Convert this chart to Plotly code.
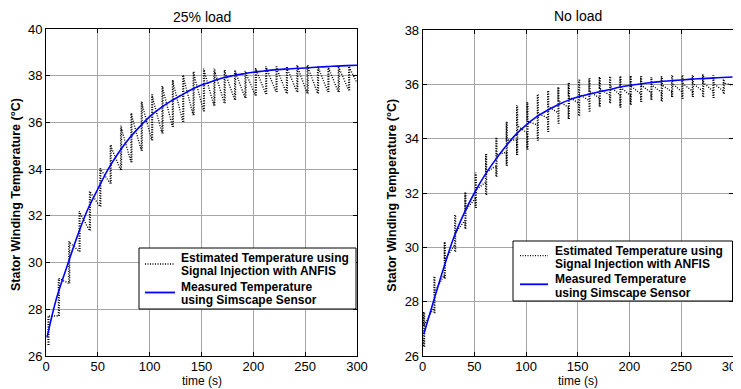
import plotly.graph_objects as go

# ---------------- data: 25% load (left panel) ----------------
left_meas_t = [1, 10, 20, 30, 40, 50, 60, 70, 80, 90, 100, 110, 120, 130, 140, 150, 160, 170, 180, 190,
               200, 210, 220, 230, 240, 250, 260, 270, 280, 290, 300]
left_meas_v = [26.8, 28.45, 29.8, 31.1, 32.25, 33.15, 34.0, 34.7, 35.3, 35.8, 36.25, 36.6, 36.9, 37.15, 37.4,
               37.6, 37.75, 37.9, 38.0, 38.08, 38.15, 38.2, 38.25, 38.28, 38.31, 38.33, 38.36, 38.39, 38.41,
               38.43, 38.45]

left_col_t = [2, 12, 22, 32, 42, 52, 62, 72, 82, 92, 102, 112, 122, 132, 142,
              152, 162, 172, 182, 192, 202, 212, 222, 232, 242, 252, 262, 272, 282, 292]
left_col_lo = [26.47, 27.71, 29.11, 30.47, 31.37, 32.4, 33.39, 33.96, 34.3, 34.79, 35.24, 35.53, 35.81, 36.03, 36.31,
               36.48, 36.72, 36.82, 36.96, 37.05, 37.15, 37.22, 37.3, 37.24, 37.3, 37.24, 37.24, 37.3, 37.3, 37.38]
left_col_hi = [27.71, 29.33, 30.9, 32.19, 33.05, 34.03, 35.03, 35.86, 36.39, 36.89, 37.2, 37.56, 37.81, 38.03, 38.17,
               38.3, 38.3, 38.24, 38.25, 38.2, 38.33, 38.39, 38.39, 38.4, 38.45, 38.45, 38.42, 38.4, 38.4, 38.4]
left_end = (300, 37.7)

# ---------------- data: No load (right panel) ----------------
right_meas_t = [1, 10, 20, 30, 40, 50, 60, 70, 80, 90, 100, 110, 120, 130, 140, 150, 160, 170, 180, 190,
                200, 210, 220, 230, 240, 250, 260, 270, 280, 290, 300]
right_meas_v = [26.8, 27.95, 29.2, 30.35, 31.25, 32.0, 32.65, 33.2, 33.7, 34.15, 34.5, 34.8, 35.03, 35.23,
                35.4, 35.53, 35.63, 35.72, 35.8, 35.89, 35.96, 36.01, 36.06, 36.1, 36.13, 36.16, 36.19,
                36.21, 36.23, 36.25, 36.27]

right_col_t = [1, 11, 21, 31, 41, 51, 61, 71, 81, 91, 101, 111, 121, 131, 141,
               151, 161, 171, 181, 191, 201, 211, 221, 231, 241, 251, 261, 271, 281, 291]
right_col_lo = [26.34, 27.57, 28.85, 29.84, 30.68, 31.45, 31.93, 32.6, 33.0, 33.4, 33.6, 33.93, 34.25, 34.55, 34.72,
                34.84, 35.0, 35.18, 35.3, 35.15, 35.25, 35.35, 35.43, 35.37, 35.53, 35.47, 35.53, 35.53, 35.5, 35.65]
right_col_hi = [27.63, 28.94, 30.2, 31.22, 32.03, 32.75, 33.44, 34.05, 34.62, 35.23, 35.35, 35.63, 35.77, 35.9, 36.05,
                36.17, 36.22, 36.28, 36.3, 36.3, 36.32, 36.3, 36.27, 36.3, 36.33, 36.33, 36.33, 36.37, 36.33, 36.2]
right_col_arr = [26.6, 27.8, 29.0, 30.1, 31.0, 31.8, 32.4, 33.0, 33.5, 33.95, 34.2, 34.5, 34.75, 34.95, 35.15,
                 35.3, 35.4, 35.5, 35.6, 35.6, 35.6, 35.65, 35.7, 35.7, 35.72, 35.72, 35.75, 35.75, 35.75, 35.75]
right_col_dep = [27.1, 28.3, 29.5, 30.5, 31.35, 32.1, 32.75, 33.4, 33.95, 34.5, 34.65, 34.95, 35.2, 35.4, 35.55,
                 35.65, 35.75, 35.85, 35.95, 35.9, 35.95, 35.98, 36.0, 36.0, 36.05, 36.05, 36.05, 36.08, 36.05, 36.05]
right_end = (300, 35.97)

est_lines = ["Estimated Temperature using", "Signal Injection with ANFIS"]
meas_lines = ["Measured Temperature", "using Simscape Sensor"]


def est_path(col_t, arr, lo, hi, dep, end):
    xs, ys = [], []
    for t, a, l, h, d in zip(col_t, arr, lo, hi, dep):
        xs += [t, t, t, t]
        ys += [a, l, h, d]
    xs.append(end[0])
    ys.append(end[1])
    return xs, ys


def col_path(col_t, lo, hi, shift):
    # second pass over each burst column (the bursts are drawn denser in the source)
    xs, ys = [], []
    for t, l, h in zip(col_t, lo, hi):
        xs += [t + shift, t + shift, None]
        ys += [l, h, None]
    return xs, ys


fig = go.Figure()

lx, ly = est_path(left_col_t, left_col_lo, left_col_lo, left_col_hi, left_col_hi, left_end)
rx, ry = est_path(right_col_t, right_col_arr, right_col_lo, right_col_hi, right_col_dep, right_end)
lcx, lcy = col_path(left_col_t, left_col_lo, left_col_hi, 0.8)
rcx, rcy = col_path(right_col_t, right_col_lo, right_col_hi, 0.8)

DOT = "1px,1.5px"
dot_line = dict(color="black", width=1.4, dash=DOT)
blue_line = dict(color="#0000ff", width=1.6, shape="spline", smoothing=1.0)

est_name = " ".join(est_lines)
meas_name = " ".join(meas_lines)
fig.add_trace(go.Scatter(x=lcx, y=lcy, mode="lines", line=dot_line, hoverinfo="skip", xaxis="x", yaxis="y"))
fig.add_trace(go.Scatter(x=lx, y=ly, mode="lines", line=dot_line, name=est_name, xaxis="x", yaxis="y"))
fig.add_trace(go.Scatter(x=left_meas_t, y=left_meas_v, mode="lines", line=blue_line, name=meas_name,
                         xaxis="x", yaxis="y"))
fig.add_trace(go.Scatter(x=rcx, y=rcy, mode="lines", line=dot_line, hoverinfo="skip", xaxis="x2", yaxis="y2"))
fig.add_trace(go.Scatter(x=rx, y=ry, mode="lines", line=dot_line, name=est_name, xaxis="x2", yaxis="y2"))
fig.add_trace(go.Scatter(x=right_meas_t, y=right_meas_v, mode="lines", line=blue_line, name=meas_name,
                         xaxis="x2", yaxis="y2"))

# the page body adds an 8px margin; size and place everything in window pixels
OFF = 8
W, H = 741 - OFF, 389 - OFF


def px(x):
    return (x - OFF) / W


def py(y):
    return 1 - (y - OFF) / H


FONT = "Liberation Sans, Arial, sans-serif"
tickfont = dict(family=FONT, size=13, color="black")

common_ax = dict(showgrid=True, gridcolor="#a6a6a6", gridwidth=1, showline=True, linecolor="black",
                 linewidth=1, mirror="ticks", ticks="inside", ticklen=4, tickcolor="black",
                 zeroline=False, tickfont=tickfont, automargin=False, ticklabeloverflow="allow")
x_ax = dict(range=[0, 300], dtick=50, ticklabelstandoff=-2, **common_ax)

fig.update_layout(
    width=W, height=H, margin=dict(l=0, r=0, t=0, b=0, autoexpand=False),
    paper_bgcolor="white", plot_bgcolor="white", showlegend=False,
    xaxis=dict(domain=[px(46), px(357)], anchor="y", **x_ax),
    yaxis=dict(domain=[py(356), py(29)], range=[26, 40], dtick=2, anchor="x", **common_ax),
    xaxis2=dict(domain=[px(422.7), px(732.7)], anchor="y2", **x_ax),
    yaxis2=dict(domain=[py(356), py(30)], range=[26, 38], dtick=2, anchor="x2", **common_ax),
)

annots = [
    dict(text="25% load", x=px(201.5), y=py(16.5), xanchor="center", font=dict(family=FONT, size=14, color="black")),
    dict(text="No load", x=px(577.7), y=py(16), xanchor="center", font=dict(family=FONT, size=14, color="black")),
    dict(text="time (s)", x=px(201.5), y=py(380.5), xanchor="center", font=dict(family=FONT, size=12, color="black")),
    dict(text="time (s)", x=px(577.7), y=py(380.5), xanchor="center", font=dict(family=FONT, size=12, color="black")),
    dict(text="<b>Stator Winding Temperature (°C)</b>", x=px(16), y=py(195), textangle=-90, xanchor="center",
         font=dict(family=FONT, size=12.5, color="black")),
    dict(text="<b>Stator Winding Temperature (°C)</b>", x=px(391.7), y=py(195), textangle=-90, xanchor="center",
         font=dict(family=FONT, size=12.5, color="black")),
]

shapes = []


def add_legend(box, sample_x, est_y, meas_y, text_x, text_ys):
    x0, y0, x1, y1 = box
    shapes.append(dict(type="rect", xref="paper", yref="paper", x0=px(x0), x1=px(x1), y0=py(y1), y1=py(y0),
                       fillcolor="white", line=dict(color="black", width=1), layer="above"))
    shapes.append(dict(type="line", xref="paper", yref="paper", x0=px(sample_x[0]), x1=px(sample_x[1]),
                       y0=py(est_y), y1=py(est_y), line=dict(color="black", width=1.3, dash=DOT), layer="above"))
    shapes.append(dict(type="line", xref="paper", yref="paper", x0=px(sample_x[0]), x1=px(sample_x[1]),
                       y0=py(meas_y), y1=py(meas_y), line=dict(color="#0000ff", width=1.8), layer="above"))
    for txt, ty in zip(est_lines + meas_lines, text_ys):
        annots.append(dict(text="<b>" + txt + "</b>", x=px(text_x), y=py(ty), xanchor="left",
                           font=dict(family=FONT, size=12, color="black")))


add_legend((139, 248, 356, 309), (145, 175), 264, 292.5, 179, (258.3, 270.5, 287.3, 299.5))
add_legend((513, 241, 732.5, 301), (520, 548), 255.7, 284.3, 553, (251, 264, 279.3, 292.7))

for a in annots:
    a.update(xref="paper", yref="paper", showarrow=False, yanchor="middle")
fig.update_layout(annotations=annots, shapes=shapes)

fig.write_html("out.html")
